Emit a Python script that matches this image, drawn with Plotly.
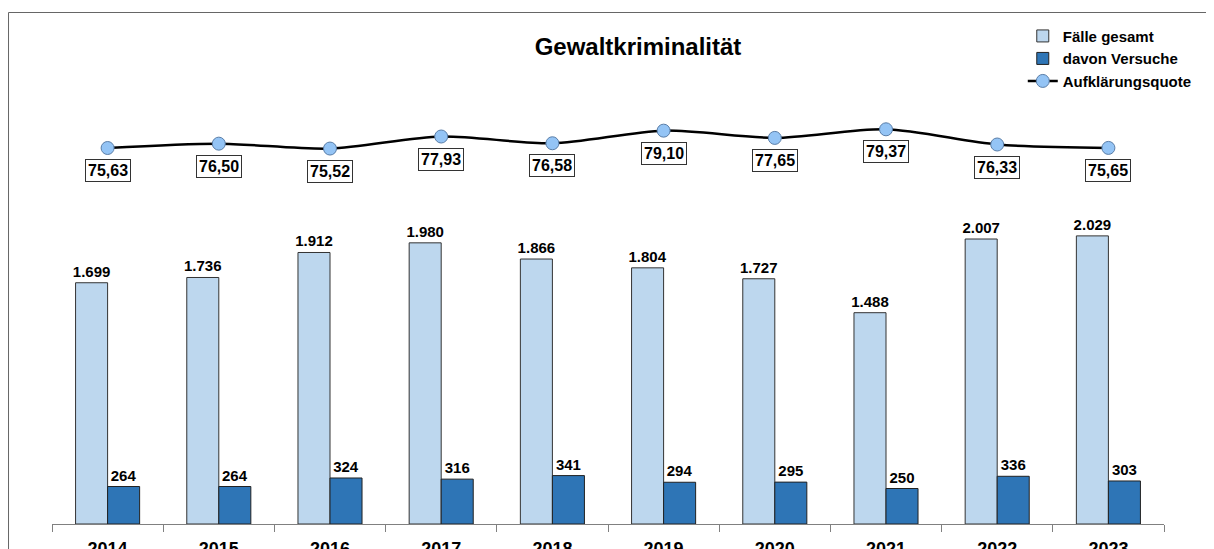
import plotly.graph_objects as go

years = ["2014", "2015", "2016", "2017", "2018", "2019", "2020", "2021", "2022", "2023"]
faelle_gesamt = [1699, 1736, 1912, 1980, 1866, 1804, 1727, 1488, 2007, 2029]
davon_versuche = [264, 264, 324, 316, 341, 294, 295, 250, 336, 303]
aufklaerungsquote = [75.63, 76.50, 75.52, 77.93, 76.58, 79.10, 77.65, 79.37, 76.33, 75.65]


def de_int(v):
    return f"{v:,}".replace(",", ".")


def de_dec(v):
    return f"{v:.2f}".replace(".", ",")


FONT = "Liberation Sans, Arial, sans-serif"

fig = go.Figure()
fig.add_trace(go.Bar(
    x=years, y=faelle_gesamt, name="<b>Fälle gesamt</b>",
    marker=dict(color="#bdd7ee", line=dict(color="#333333", width=1)),
    text=[f"<b>{de_int(v)}</b>" for v in faelle_gesamt], textposition="outside",
    textfont=dict(family=FONT, size=15, color="black"), constraintext="none",
    cliponaxis=False, legendgroup="a",
))
fig.add_trace(go.Bar(
    x=years, y=davon_versuche, name="<b>davon Versuche</b>",
    marker=dict(color="#2e75b6", line=dict(color="#222222", width=1)),
    text=[f"<b>{de_int(v)}</b>" for v in davon_versuche], textposition="outside",
    textfont=dict(family=FONT, size=15, color="black"), constraintext="none",
    cliponaxis=False, legendgroup="b",
))
fig.add_trace(go.Scatter(
    x=years, y=aufklaerungsquote, name="<b>Aufklärungsquote</b>", yaxis="y2",
    mode="lines+markers",
    line=dict(color="black", width=2.5, shape="spline", smoothing=0.8),
    marker=dict(size=13, color="#94c4f5", line=dict(color="#5a7ea8", width=1)),
    cliponaxis=False, legendgroup="c",
))

# category axis: annotation x is the category index
for i, v in enumerate(aufklaerungsquote):
    fig.add_annotation(
        x=i, y=v, xref="x", yref="y2", text=f"<b>{de_dec(v)}</b>",
        showarrow=False, yanchor="top", yshift=-11,
        font=dict(family=FONT, size=16, color="black"),
        bgcolor="white", bordercolor="#333333", borderwidth=1, borderpad=2,
    )

# frame
fig.add_shape(type="rect", xref="paper", yref="paper",
              x0=-0.0391, x1=1.2, y0=-0.3, y1=0.999,
              line=dict(color="#666666", width=1), fillcolor="rgba(0,0,0,0)", layer="below")

fig.update_layout(
    width=1206, height=541,
    template="none",
    paper_bgcolor="white", plot_bgcolor="white",
    margin=dict(l=44, r=50, t=4, b=25, pad=0),
    barmode="group", bargap=0.424, bargroupgap=0,
    font=dict(family=FONT, color="black"),
    title=dict(text="<b>Gewaltkriminalität</b>", x=630 / 1206, xanchor="center",
               xref="container", y=1 - 39 / 541, yref="container", yanchor="middle",
               font=dict(family=FONT, size=24, color="black")),
    xaxis=dict(type="category", range=[-0.5, len(years) - 0.5], autorange=False,
               showline=True, linecolor="#808080", linewidth=1,
               ticks="outside", tickson="boundaries", ticklen=7, tickcolor="#808080",
               tickfont=dict(family=FONT, size=18, color="black"),
               tickprefix="<b>", ticksuffix="</b>", ticklabelstandoff=8,
               showgrid=False, zeroline=False, automargin=False, fixedrange=True),
    yaxis=dict(range=[0, 3605.6], visible=False, showgrid=False, zeroline=False,
               automargin=False),
    yaxis2=dict(range=[0.43, 102.83], overlaying="y", side="right", visible=False,
                showgrid=False, zeroline=False, automargin=False),
    legend=dict(x=0.873, xanchor="left", y=0.985, yanchor="top",
                font=dict(family=FONT, size=15, color="black"),
                bgcolor="rgba(0,0,0,0)", tracegroupgap=6, traceorder="normal",
                itemwidth=30),
    showlegend=True,
)

fig.write_html("out.html")
